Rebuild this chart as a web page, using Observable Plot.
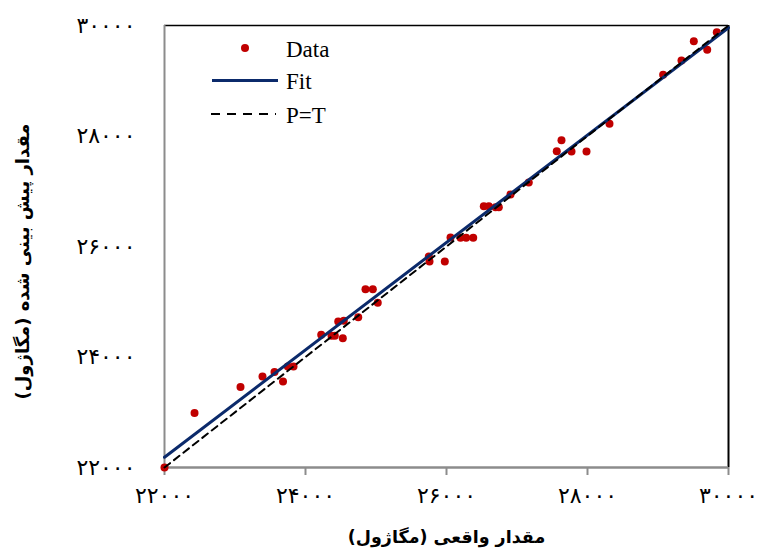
<!DOCTYPE html>
<html>
<head>
<meta charset="utf-8">
<script src="https://cdn.jsdelivr.net/npm/d3@7"></script>
<script src="https://cdn.jsdelivr.net/npm/@observablehq/plot@0.6"></script>
<style>
  html, body { margin: 0; padding: 0; background: #fff; }
  g.legend text { font-family: "Liberation Serif", "Times New Roman", serif !important; font-size: 23px; }
</style>
</head>
<body>
<div id="chart"></div>
<script>
// Data
const actual = [22000, 22426, 23078, 23390, 23560, 23681, 23749, 23830, 24223, 24369,
  24416, 24529, 24464, 24543, 24748, 24851, 24955, 25025, 25749, 25759,
  25976, 26057, 26199, 26279, 26379, 26529, 26600, 26695, 26742, 26908,
  27167, 27564, 27631, 27773, 27986, 28312, 29073, 29333, 29508, 29698, 29834];
const predicted = [22000, 22986, 23457, 23647, 23729, 23557, 23828, 23828, 24402, 24384,
  24384, 24340, 24643, 24655, 24721, 25227, 25227, 24981, 25819, 25729,
  25729, 26163, 26158, 26158, 26158, 26730, 26730, 26711, 26711, 26941,
  27159, 27725, 27924, 27720, 27720, 28221, 29108, 29367, 29716, 29560, 29879];
const fitX = [22000, 30000];
const fitY = [22186, 29960];
const ptX = [22000, 30000];
const ptY = [22000, 30000];
const xTicks = [22000, 24000, 26000, 28000, 30000];
const yTicks = [22000, 24000, 26000, 28000, 30000];
const legendLabels = ["Data", "Fit", "P=T"];
const xTitle = "مقدار واقعی (مگاژول)";
const yTitle = "مقدار پیش بینی شده (مگاژول)";

const faDigits = "۰۱۲۳۴۵۶۷۸۹";
const fa = d => String(d).replace(/\d/g, c => faDigits[+c]);

const points = actual.map((a, i) => ({a, p: predicted[i]}));
const fit = fitX.map((x, i) => ({x, y: fitY[i]}));
const pt = ptX.map((x, i) => ({x, y: ptY[i]}));

const red = "#C00000";
const navy = "#0B2A6B";

const chart = Plot.plot({
  width: 758,
  height: 555,
  marginLeft: 164,
  marginRight: 30,
  marginTop: 25,
  marginBottom: 88,
  style: {fontFamily: "DejaVu Sans", background: "#fff", color: "#000"},
  x: {domain: [22000, 30000], label: null},
  y: {domain: [22000, 30000], label: null},
  marks: [
    Plot.axisX({ticks: xTicks, tickFormat: fa, tickSize: 8, tickPadding: 12, stroke: "#8c8c8c", strokeWidth: 2, fontSize: 22, fill: "#000"}),
    Plot.axisY({ticks: yTicks, tickFormat: fa, tickSize: 0, tickPadding: 29, fontSize: 22, fill: "#000"}),
    Plot.ruleY([30000], {stroke: "#000", strokeWidth: 1.5}),
    Plot.ruleX([30000], {stroke: "#000", strokeWidth: 2}),
    Plot.ruleX([22000], {stroke: "#8c8c8c", strokeWidth: 2}),
    Plot.ruleY([22000], {stroke: "#8c8c8c", strokeWidth: 2.5}),
    Plot.dot(points, {x: "a", y: "p", r: 4, fill: red, stroke: "none"}),
    Plot.line(fit, {x: "x", y: "y", stroke: navy, strokeWidth: 3}),
    Plot.line(pt, {x: "x", y: "y", stroke: "#000", strokeWidth: 2, strokeDasharray: "7,5"}),
    Plot.text([xTitle], {frameAnchor: "bottom", dy: 75, text: d => d, fontSize: 17.5, fontWeight: "bold", fill: "#000"}),
    Plot.text([yTitle], {frameAnchor: "left", textAnchor: "middle", dx: -141, dy: 15, rotate: -90, text: d => d, fontSize: 18, fontWeight: "bold", fill: "#000"})
  ]
});

// Legend drawn into the SVG, inside the top-left of the frame
const svg = d3.select(chart);
const lg = svg.append("g")
  .attr("class", "legend")
  .attr("text-anchor", "start")
  .attr("fill", "#000");
lg.append("circle").attr("cx", 245).attr("cy", 48).attr("r", 4).attr("fill", red);
lg.append("line").attr("x1", 212).attr("x2", 278).attr("y1", 80.5).attr("y2", 80.5).attr("stroke", navy).attr("stroke-width", 3);
lg.append("line").attr("x1", 211).attr("x2", 276).attr("y1", 114).attr("y2", 114).attr("stroke", "#000").attr("stroke-width", 2).attr("stroke-dasharray", "9,7");
legendLabels.forEach((t, i) => {
  lg.append("text").attr("x", 286).attr("y", [57, 89, 123][i]).text(t);
});

document.getElementById("chart").appendChild(chart);
</script>
</body>
</html>
